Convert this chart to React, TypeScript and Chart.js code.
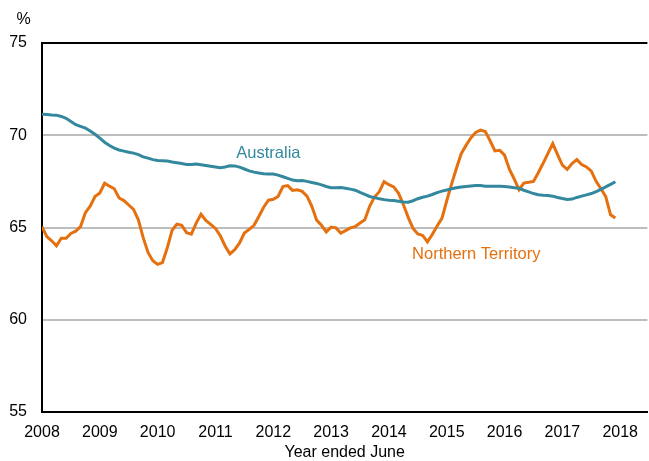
import React, { useEffect, useRef } from "react";
import { Chart, registerables } from "chart.js";

Chart.register(...registerables);

const START_YEAR = 2008;
const YEAR_TICKS = [2008, 2009, 2010, 2011, 2012, 2013, 2014, 2015, 2016, 2017, 2018];
const Y_TICKS = [55, 60, 65, 70, 75];

// Monthly values, Jan 2008 .. Dec 2017
const australia = [
  71.14, 71.12, 71.10, 71.09, 71.02, 70.92, 70.75, 70.57, 70.48, 70.39, 70.23, 70.05,
  69.84, 69.62, 69.44, 69.30, 69.20, 69.14, 69.08, 69.03, 68.95, 68.83, 68.76, 68.68,
  68.63, 68.62, 68.60, 68.55, 68.51, 68.47, 68.42, 68.42, 68.44, 68.40, 68.36, 68.32,
  68.28, 68.24, 68.28, 68.35, 68.34, 68.27, 68.17, 68.07, 68.00, 67.95, 67.91, 67.90,
  67.90, 67.84, 67.75, 67.66, 67.57, 67.54, 67.55, 67.50, 67.44, 67.39, 67.31, 67.22,
  67.16, 67.16, 67.17, 67.13, 67.08, 67.02, 66.90, 66.79, 66.68, 66.62, 66.56, 66.51,
  66.48, 66.46, 66.42, 66.38, 66.37, 66.45, 66.56, 66.64, 66.70, 66.79, 66.89, 66.97,
  67.03, 67.10, 67.15, 67.19, 67.22, 67.25, 67.27, 67.28, 67.24, 67.23, 67.23, 67.23,
  67.22, 67.20, 67.16, 67.12, 67.02, 66.93, 66.84, 66.78, 66.75, 66.73, 66.70, 66.63,
  66.57, 66.52, 66.54, 66.63, 66.70, 66.77, 66.84, 66.95, 67.07, 67.20, 67.34, 67.48,
];

const northernTerritory = [
  65.05, 64.51, 64.28, 64.01, 64.42, 64.42, 64.68, 64.80, 65.05, 65.80, 66.16, 66.68,
  66.87, 67.40, 67.24, 67.10, 66.60, 66.46, 66.22, 65.98, 65.42, 64.45, 63.65, 63.20,
  63.00, 63.10, 63.90, 64.85, 65.18, 65.12, 64.72, 64.64, 65.24, 65.72, 65.38, 65.17,
  64.95, 64.55, 64.00, 63.57, 63.80, 64.16, 64.70, 64.90, 65.12, 65.60, 66.10, 66.48,
  66.53, 66.68, 67.22, 67.27, 67.01, 67.04, 66.96, 66.70, 66.15, 65.40, 65.12, 64.76,
  65.02, 64.98, 64.70, 64.83, 64.98, 65.05, 65.24, 65.42, 66.15, 66.65, 66.94, 67.48,
  67.32, 67.20, 66.85, 66.25, 65.55, 64.95, 64.65, 64.57, 64.22, 64.62, 65.08, 65.50,
  66.45, 67.35, 68.20, 69.00, 69.45, 69.85, 70.15, 70.28, 70.20, 69.70, 69.15, 69.18,
  68.92, 68.16, 67.63, 67.05, 67.41, 67.45, 67.50, 67.97, 68.48, 69.02, 69.55, 68.95,
  68.38, 68.15, 68.47, 68.68, 68.41, 68.28, 68.05, 67.50, 67.10, 66.68, 65.69, 65.51,
];

const SERIES_LABELS = [
  { text: "Australia", x: 2011.36, y: 69.0, color: "#33889e" },
  { text: "Northern Territory", x: 2014.4, y: 63.52, color: "#e5700f" },
];

const TEAL = "#33889e";
const ORANGE = "#e5700f";
const FONT = "Arial, 'Liberation Sans', sans-serif";

const toPoints = (arr: number[]) =>
  arr.map((v, i) => ({ x: START_YEAR + i / 12, y: v }));

export default function App() {
  const ref = useRef<HTMLCanvasElement | null>(null);

  useEffect(() => {
    if (!ref.current) return;
    const labelPlugin = {
      id: "labels",
      afterDatasetsDraw(chart: any) {
        const { ctx, scales } = chart;
        ctx.save();
        ctx.font = `16.5px ${FONT}`;
        ctx.textBaseline = "middle";
        ctx.textAlign = "left";
        for (const l of SERIES_LABELS) {
          ctx.fillStyle = l.color;
          ctx.fillText(l.text, scales.x.getPixelForValue(l.x), scales.y.getPixelForValue(l.y));
        }
        ctx.fillStyle = "#000";
        ctx.font = `16px ${FONT}`;
        ctx.textAlign = "center";
        ctx.fillText("%", 23.5, 20);
        ctx.restore();
      },
    };

    const chart = new Chart(ref.current, {
      type: "line",
      data: {
        datasets: [
          {
            label: "Australia",
            data: toPoints(australia),
            borderColor: TEAL,
            borderWidth: 3,
            pointRadius: 0,
            tension: 0,
            fill: false,
          },
          {
            label: "Northern Territory",
            data: toPoints(northernTerritory),
            borderColor: ORANGE,
            borderWidth: 3,
            pointRadius: 0,
            tension: 0,
            fill: false,
          },
        ],
      },
      options: {
        animation: false,
        responsive: false,
        maintainAspectRatio: false,
        layout: { padding: { top: 43, left: 0, right: 0, bottom: 0 } },
        plugins: {
          legend: { display: false },
          tooltip: { enabled: false },
        },
        scales: {
          x: {
            type: "linear",
            min: 2008,
            max: 2018.47,
            afterBuildTicks: (scale: any) => {
              scale.ticks = YEAR_TICKS.map((v) => ({ value: v }));
            },
            afterFit: (scale: any) => {
              scale.height = 49;
            },
            grid: { display: false, drawTicks: false },
            border: { display: true, color: "#000", width: 2 },
            ticks: {
              color: "#000",
              font: { family: FONT, size: 16, lineHeight: 1.2 },
              padding: 11,
              maxRotation: 0,
              autoSkip: false,
              callback: (v: any) => String(v),
            },
            title: {
              display: true,
              text: "Year ended June",
              color: "#000",
              font: { family: FONT, size: 16, lineHeight: 1 },
              padding: { top: 0, bottom: 0 },
            },
          },
          y: {
            min: 55,
            max: 75,
            afterBuildTicks: (scale: any) => {
              scale.ticks = Y_TICKS.map((v) => ({ value: v }));
            },
            afterFit: (scale: any) => {
              scale.width = 42;
            },
            grid: {
              drawTicks: false,
              color: (c: any) =>
                c.tick && c.tick.value === 75
                  ? "#000"
                  : c.tick && c.tick.value === 55
                  ? "rgba(0,0,0,0)"
                  : "#bdbdbd",
              lineWidth: 2,
            },
            border: { display: true, color: "#000", width: 2 },
            ticks: {
              color: "#000",
              font: { family: FONT, size: 16 },
              padding: 15,
              callback: (v: any) => String(v),
            },
          },
        },
      },
      plugins: [labelPlugin],
    } as any);

    return () => chart.destroy();
  }, []);

  return (
    <div style={{ position: "absolute", left: 0, top: 0, width: 649, height: 461 }}>
      <canvas ref={ref} width={649} height={461} style={{ display: "block" }} />
    </div>
  );
}
